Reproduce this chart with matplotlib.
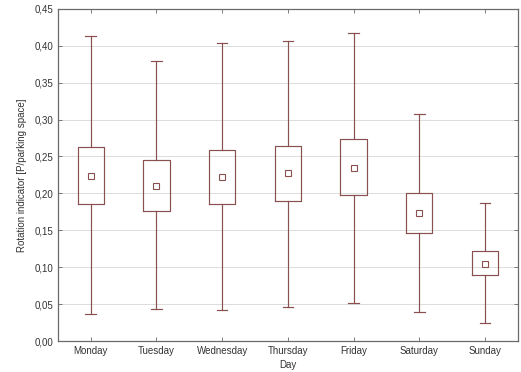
import matplotlib
matplotlib.use("Agg")
import matplotlib.pyplot as plt
from matplotlib.ticker import FuncFormatter, MultipleLocator

days = ["Monday", "Tuesday", "Wednesday", "Thursday", "Friday", "Saturday", "Sunday"]
means = [0.224, 0.210, 0.222, 0.227, 0.235, 0.173, 0.105]
box_low = [0.186, 0.176, 0.185, 0.190, 0.198, 0.146, 0.089]
box_high = [0.263, 0.245, 0.259, 0.264, 0.273, 0.201, 0.122]
whisk_low = [0.036, 0.044, 0.042, 0.046, 0.052, 0.039, 0.024]
whisk_high = [0.413, 0.379, 0.404, 0.407, 0.417, 0.308, 0.187]

color = "#8a5050"
plt.rcParams["font.family"] = ["Liberation Sans", "DejaVu Sans"]

fig = plt.figure(figsize=(5.21, 3.72), dpi=100)
ax = fig.add_axes([0.111, 0.0833, 0.883, 0.893])

stats = []
for d, m, lo, hi, wl, wh in zip(days, means, box_low, box_high, whisk_low, whisk_high):
    stats.append(dict(label=d, mean=m, med=m, q1=lo, q3=hi, whislo=wl, whishi=wh, fliers=[]))

ax.bxp(stats, positions=range(len(days)), widths=0.4, showmeans=True, showfliers=False,
       boxprops=dict(color=color, linewidth=0.85),
       whiskerprops=dict(color=color, linewidth=0.85),
       capprops=dict(color=color, linewidth=0.85),
       capwidths=0.16,
       medianprops=dict(linewidth=0),
       meanprops=dict(marker="s", markersize=4, markerfacecolor="white",
                      markeredgecolor=color, markeredgewidth=0.8))

ax.set_xlim(-0.5, len(days) - 0.5)
ax.set_ylim(0, 0.45)
ax.yaxis.set_major_locator(MultipleLocator(0.05))
ax.yaxis.set_major_formatter(FuncFormatter(lambda v, p: f"{v:.2f}".replace(".", ",")))
ax.set_xticks(range(len(days)))
ax.set_xticklabels(days)
ax.grid(axis="y", color="#dcdcdc", linewidth=0.7)
ax.set_axisbelow(True)
ax.tick_params(direction="in", top=True, right=True, labelsize=7, colors="#666666",
               length=3, width=0.6, labelcolor="#333333")
for s in ax.spines.values():
    s.set_color("#6a6a6a")
    s.set_linewidth(0.9)
ax.set_xlabel("Day", fontsize=7, color="#333333", labelpad=3)
ax.set_ylabel("Rotation indicator [P/parking space]", fontsize=7, color="#333333", labelpad=5)

fig.savefig("out.png", dpi=100)
